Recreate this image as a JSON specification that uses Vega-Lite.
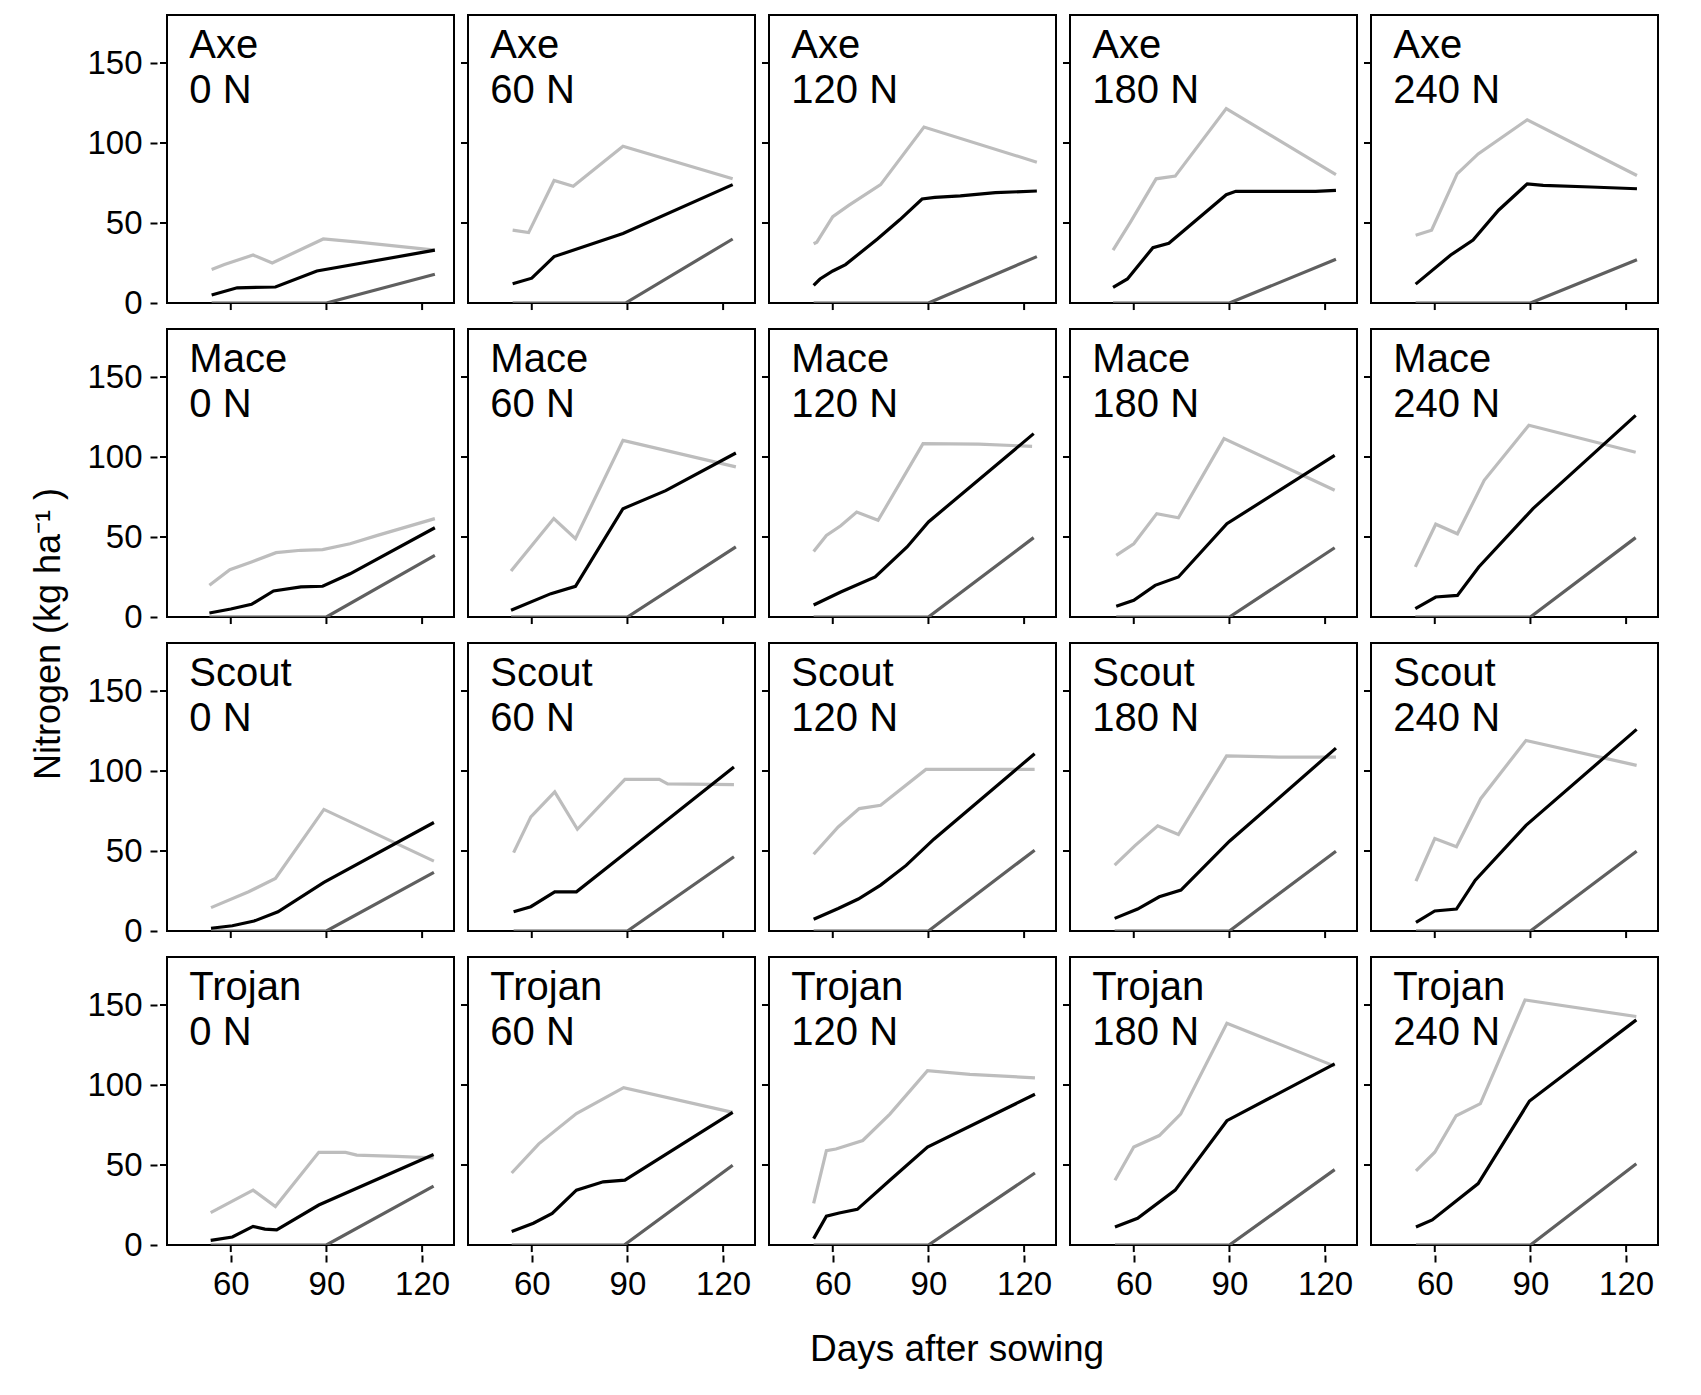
{
  "$schema": "https://vega.github.io/schema/vega-lite/v6.json",
  "background": "white",
  "padding": {"left": 30, "top": 14, "right": 10, "bottom": 10},
  "title": {
    "text": "Days after sowing", "orient": "bottom", "anchor": "middle", "dx": 112, "offset": 31,
    "fontSize": 37, "fontWeight": "normal", "color": "#000", "font": "Liberation Sans"
  },
  "datasets": {
    "nitrogen": [
      {"c":"Axe","n":0,"s":"L","d":54,"v":21},{"c":"Axe","n":0,"s":"L","d":58,"v":24},{"c":"Axe","n":0,"s":"L","d":67,"v":30},{"c":"Axe","n":0,"s":"L","d":73,"v":25},{"c":"Axe","n":0,"s":"L","d":89,"v":40},{"c":"Axe","n":0,"s":"L","d":100,"v":38},{"c":"Axe","n":0,"s":"L","d":124,"v":33},
      {"c":"Axe","n":0,"s":"D","d":54,"v":0},{"c":"Axe","n":0,"s":"D","d":90,"v":0},{"c":"Axe","n":0,"s":"D","d":124,"v":18},
      {"c":"Axe","n":0,"s":"B","d":54,"v":5},{"c":"Axe","n":0,"s":"B","d":62,"v":9.5},{"c":"Axe","n":0,"s":"B","d":74,"v":10},{"c":"Axe","n":0,"s":"B","d":87,"v":20},{"c":"Axe","n":0,"s":"B","d":124,"v":33},

      {"c":"Axe","n":60,"s":"L","d":54,"v":45.5},{"c":"Axe","n":60,"s":"L","d":59,"v":44},{"c":"Axe","n":60,"s":"L","d":67,"v":76.6},{"c":"Axe","n":60,"s":"L","d":73,"v":73},{"c":"Axe","n":60,"s":"L","d":88.6,"v":98},{"c":"Axe","n":60,"s":"L","d":123,"v":77.6},
      {"c":"Axe","n":60,"s":"D","d":54,"v":0},{"c":"Axe","n":60,"s":"D","d":89.4,"v":0},{"c":"Axe","n":60,"s":"D","d":123,"v":40},
      {"c":"Axe","n":60,"s":"B","d":54,"v":12},{"c":"Axe","n":60,"s":"B","d":60,"v":15.5},{"c":"Axe","n":60,"s":"B","d":67,"v":29},{"c":"Axe","n":60,"s":"B","d":88.6,"v":43.5},{"c":"Axe","n":60,"s":"B","d":123,"v":74},

      {"c":"Axe","n":120,"s":"L","d":54,"v":37},{"c":"Axe","n":120,"s":"L","d":55,"v":38},{"c":"Axe","n":120,"s":"L","d":60,"v":54},{"c":"Axe","n":120,"s":"L","d":65,"v":61},{"c":"Axe","n":120,"s":"L","d":75,"v":74},{"c":"Axe","n":120,"s":"L","d":88.6,"v":110},{"c":"Axe","n":120,"s":"L","d":124,"v":88},
      {"c":"Axe","n":120,"s":"D","d":54,"v":0},{"c":"Axe","n":120,"s":"D","d":90,"v":0},{"c":"Axe","n":120,"s":"D","d":124,"v":29},
      {"c":"Axe","n":120,"s":"B","d":54,"v":11},{"c":"Axe","n":120,"s":"B","d":56,"v":15},{"c":"Axe","n":120,"s":"B","d":60,"v":20},{"c":"Axe","n":120,"s":"B","d":64,"v":24},{"c":"Axe","n":120,"s":"B","d":74,"v":40},{"c":"Axe","n":120,"s":"B","d":81,"v":52},{"c":"Axe","n":120,"s":"B","d":88,"v":65},{"c":"Axe","n":120,"s":"B","d":92,"v":66},{"c":"Axe","n":120,"s":"B","d":100,"v":67},{"c":"Axe","n":120,"s":"B","d":111,"v":69},{"c":"Axe","n":120,"s":"B","d":124,"v":70},

      {"c":"Axe","n":180,"s":"L","d":53.5,"v":33},{"c":"Axe","n":180,"s":"L","d":59,"v":50.7},{"c":"Axe","n":180,"s":"L","d":67,"v":77.6},{"c":"Axe","n":180,"s":"L","d":73,"v":79.3},{"c":"Axe","n":180,"s":"L","d":89,"v":121.5},{"c":"Axe","n":180,"s":"L","d":123.4,"v":80.3},
      {"c":"Axe","n":180,"s":"D","d":53.5,"v":0},{"c":"Axe","n":180,"s":"D","d":90,"v":0},{"c":"Axe","n":180,"s":"D","d":123.4,"v":27.3},
      {"c":"Axe","n":180,"s":"B","d":53.5,"v":9.7},{"c":"Axe","n":180,"s":"B","d":58,"v":15},{"c":"Axe","n":180,"s":"B","d":66,"v":34.6},{"c":"Axe","n":180,"s":"B","d":71,"v":37.3},{"c":"Axe","n":180,"s":"B","d":89,"v":67.7},{"c":"Axe","n":180,"s":"B","d":92,"v":69.8},{"c":"Axe","n":180,"s":"B","d":117,"v":69.8},{"c":"Axe","n":180,"s":"B","d":123.4,"v":70.4},

      {"c":"Axe","n":240,"s":"L","d":54,"v":42.4},{"c":"Axe","n":240,"s":"L","d":59,"v":45.5},{"c":"Axe","n":240,"s":"L","d":67,"v":80.7},{"c":"Axe","n":240,"s":"L","d":73.6,"v":93.2},{"c":"Axe","n":240,"s":"L","d":89,"v":114.5},{"c":"Axe","n":240,"s":"L","d":123.4,"v":79.7},
      {"c":"Axe","n":240,"s":"D","d":54,"v":0},{"c":"Axe","n":240,"s":"D","d":90,"v":0},{"c":"Axe","n":240,"s":"D","d":123.4,"v":27},
      {"c":"Axe","n":240,"s":"B","d":54,"v":11.8},{"c":"Axe","n":240,"s":"B","d":65,"v":30},{"c":"Axe","n":240,"s":"B","d":72,"v":39.3},{"c":"Axe","n":240,"s":"B","d":80,"v":58},{"c":"Axe","n":240,"s":"B","d":89,"v":74.5},{"c":"Axe","n":240,"s":"B","d":94,"v":73.5},{"c":"Axe","n":240,"s":"B","d":109,"v":72.5},{"c":"Axe","n":240,"s":"B","d":123.4,"v":71.4},

      {"c":"Mace","n":0,"s":"L","d":53.3,"v":19.8},{"c":"Mace","n":0,"s":"L","d":59.7,"v":29.6},{"c":"Mace","n":0,"s":"L","d":66.5,"v":34.4},{"c":"Mace","n":0,"s":"L","d":74.2,"v":40.2},{"c":"Mace","n":0,"s":"L","d":82,"v":41.7},{"c":"Mace","n":0,"s":"L","d":88.8,"v":42.1},{"c":"Mace","n":0,"s":"L","d":97.4,"v":45.8},{"c":"Mace","n":0,"s":"L","d":106,"v":51},{"c":"Mace","n":0,"s":"L","d":124,"v":61.5},
      {"c":"Mace","n":0,"s":"D","d":53.3,"v":0},{"c":"Mace","n":0,"s":"D","d":90,"v":0},{"c":"Mace","n":0,"s":"D","d":124,"v":38.5},
      {"c":"Mace","n":0,"s":"B","d":53.3,"v":2.5},{"c":"Mace","n":0,"s":"B","d":60,"v":5},{"c":"Mace","n":0,"s":"B","d":66.5,"v":7.9},{"c":"Mace","n":0,"s":"B","d":73.4,"v":16.3},{"c":"Mace","n":0,"s":"B","d":82,"v":18.8},{"c":"Mace","n":0,"s":"B","d":88.8,"v":19.2},{"c":"Mace","n":0,"s":"B","d":97.4,"v":27},{"c":"Mace","n":0,"s":"B","d":124,"v":55.8},

      {"c":"Mace","n":60,"s":"L","d":53.5,"v":28.8},{"c":"Mace","n":60,"s":"L","d":66.9,"v":61.5},{"c":"Mace","n":60,"s":"L","d":73.7,"v":49},{"c":"Mace","n":60,"s":"L","d":88.6,"v":110.4},{"c":"Mace","n":60,"s":"L","d":124,"v":93.8},
      {"c":"Mace","n":60,"s":"D","d":53.5,"v":0},{"c":"Mace","n":60,"s":"D","d":90,"v":0},{"c":"Mace","n":60,"s":"D","d":124,"v":43.8},
      {"c":"Mace","n":60,"s":"B","d":53.5,"v":4.2},{"c":"Mace","n":60,"s":"B","d":66,"v":14.6},{"c":"Mace","n":60,"s":"B","d":73.7,"v":19.2},{"c":"Mace","n":60,"s":"B","d":88.6,"v":67.7},{"c":"Mace","n":60,"s":"B","d":102,"v":79},{"c":"Mace","n":60,"s":"B","d":124,"v":102.5},

      {"c":"Mace","n":120,"s":"L","d":54,"v":41},{"c":"Mace","n":120,"s":"L","d":58,"v":51},{"c":"Mace","n":120,"s":"L","d":62.5,"v":57},{"c":"Mace","n":120,"s":"L","d":67.5,"v":65.6},{"c":"Mace","n":120,"s":"L","d":74.2,"v":60.4},{"c":"Mace","n":120,"s":"L","d":88.3,"v":108.3},{"c":"Mace","n":120,"s":"L","d":105.8,"v":108},{"c":"Mace","n":120,"s":"L","d":122.5,"v":106.7},
      {"c":"Mace","n":120,"s":"D","d":54,"v":0},{"c":"Mace","n":120,"s":"D","d":90,"v":0},{"c":"Mace","n":120,"s":"D","d":123,"v":49.6},
      {"c":"Mace","n":120,"s":"B","d":54,"v":7.5},{"c":"Mace","n":120,"s":"B","d":62.5,"v":15.6},{"c":"Mace","n":120,"s":"B","d":73.3,"v":25},{"c":"Mace","n":120,"s":"B","d":83.3,"v":43.8},{"c":"Mace","n":120,"s":"B","d":90,"v":59.4},{"c":"Mace","n":120,"s":"B","d":123,"v":114.6},

      {"c":"Mace","n":180,"s":"L","d":54.5,"v":38.5},{"c":"Mace","n":180,"s":"L","d":60,"v":45.8},{"c":"Mace","n":180,"s":"L","d":67.2,"v":64.6},{"c":"Mace","n":180,"s":"L","d":74,"v":62},{"c":"Mace","n":180,"s":"L","d":88.3,"v":111.5},{"c":"Mace","n":180,"s":"L","d":123,"v":79.2},
      {"c":"Mace","n":180,"s":"D","d":54.5,"v":0},{"c":"Mace","n":180,"s":"D","d":90,"v":0},{"c":"Mace","n":180,"s":"D","d":123,"v":43.3},
      {"c":"Mace","n":180,"s":"B","d":54.5,"v":6.7},{"c":"Mace","n":180,"s":"B","d":60,"v":10.4},{"c":"Mace","n":180,"s":"B","d":66.7,"v":19.8},{"c":"Mace","n":180,"s":"B","d":74,"v":25},{"c":"Mace","n":180,"s":"B","d":89.2,"v":58.3},{"c":"Mace","n":180,"s":"B","d":123,"v":101},

      {"c":"Mace","n":240,"s":"L","d":53.9,"v":31.3},{"c":"Mace","n":240,"s":"L","d":60.3,"v":58},{"c":"Mace","n":240,"s":"L","d":67.1,"v":52},{"c":"Mace","n":240,"s":"L","d":75.5,"v":85.4},{"c":"Mace","n":240,"s":"L","d":89.5,"v":119.8},{"c":"Mace","n":240,"s":"L","d":123,"v":103},
      {"c":"Mace","n":240,"s":"D","d":53.9,"v":0},{"c":"Mace","n":240,"s":"D","d":90,"v":0},{"c":"Mace","n":240,"s":"D","d":123,"v":49.6},
      {"c":"Mace","n":240,"s":"B","d":53.9,"v":5.2},{"c":"Mace","n":240,"s":"B","d":60.3,"v":12.5},{"c":"Mace","n":240,"s":"B","d":67.1,"v":13.5},{"c":"Mace","n":240,"s":"B","d":73.8,"v":31.3},{"c":"Mace","n":240,"s":"B","d":90.8,"v":67.7},{"c":"Mace","n":240,"s":"B","d":123,"v":126},

      {"c":"Scout","n":0,"s":"L","d":53.8,"v":14.6},{"c":"Scout","n":0,"s":"L","d":65.6,"v":24.5},{"c":"Scout","n":0,"s":"L","d":74,"v":32.8},{"c":"Scout","n":0,"s":"L","d":89.2,"v":76},{"c":"Scout","n":0,"s":"L","d":123.7,"v":43.7},
      {"c":"Scout","n":0,"s":"D","d":53.8,"v":0},{"c":"Scout","n":0,"s":"D","d":90,"v":0},{"c":"Scout","n":0,"s":"D","d":123.7,"v":36.6},
      {"c":"Scout","n":0,"s":"B","d":53.8,"v":1.7},{"c":"Scout","n":0,"s":"B","d":60.5,"v":3.3},{"c":"Scout","n":0,"s":"B","d":67.3,"v":6.2},{"c":"Scout","n":0,"s":"B","d":74.8,"v":12},{"c":"Scout","n":0,"s":"B","d":89.2,"v":30.4},{"c":"Scout","n":0,"s":"B","d":123.7,"v":67.8},

      {"c":"Scout","n":60,"s":"L","d":54.3,"v":49},{"c":"Scout","n":60,"s":"L","d":59.7,"v":71.3},{"c":"Scout","n":60,"s":"L","d":67.2,"v":86.9},{"c":"Scout","n":60,"s":"L","d":74.3,"v":63.6},{"c":"Scout","n":60,"s":"L","d":89.2,"v":94.8},{"c":"Scout","n":60,"s":"L","d":100,"v":94.8},{"c":"Scout","n":60,"s":"L","d":102.6,"v":92},{"c":"Scout","n":60,"s":"L","d":123.4,"v":91.5},
      {"c":"Scout","n":60,"s":"D","d":54.3,"v":0},{"c":"Scout","n":60,"s":"D","d":90,"v":0},{"c":"Scout","n":60,"s":"D","d":123.4,"v":46.4},
      {"c":"Scout","n":60,"s":"B","d":54.3,"v":12},{"c":"Scout","n":60,"s":"B","d":59.7,"v":15.2},{"c":"Scout","n":60,"s":"B","d":67.2,"v":24.5},{"c":"Scout","n":60,"s":"B","d":74,"v":24.5},{"c":"Scout","n":60,"s":"B","d":89.2,"v":48.4},{"c":"Scout","n":60,"s":"B","d":123.4,"v":102.5},

      {"c":"Scout","n":120,"s":"L","d":54,"v":48},{"c":"Scout","n":120,"s":"L","d":61.7,"v":65},{"c":"Scout","n":120,"s":"L","d":68.3,"v":76.5},{"c":"Scout","n":120,"s":"L","d":75,"v":78.6},{"c":"Scout","n":120,"s":"L","d":89.2,"v":101},{"c":"Scout","n":120,"s":"L","d":123.3,"v":101},
      {"c":"Scout","n":120,"s":"D","d":54,"v":0},{"c":"Scout","n":120,"s":"D","d":90,"v":0},{"c":"Scout","n":120,"s":"D","d":123.3,"v":50.5},
      {"c":"Scout","n":120,"s":"B","d":54,"v":7.4},{"c":"Scout","n":120,"s":"B","d":61.7,"v":14.1},{"c":"Scout","n":120,"s":"B","d":68,"v":20},{"c":"Scout","n":120,"s":"B","d":75,"v":28.7},{"c":"Scout","n":120,"s":"B","d":83,"v":41},{"c":"Scout","n":120,"s":"B","d":91.7,"v":57.4},{"c":"Scout","n":120,"s":"B","d":123.3,"v":110.8},

      {"c":"Scout","n":180,"s":"L","d":54,"v":41.2},{"c":"Scout","n":180,"s":"L","d":60.3,"v":53.2},{"c":"Scout","n":180,"s":"L","d":67.5,"v":65.7},{"c":"Scout","n":180,"s":"L","d":74,"v":60.3},{"c":"Scout","n":180,"s":"L","d":89.1,"v":109.4},{"c":"Scout","n":180,"s":"L","d":105.5,"v":108.7},{"c":"Scout","n":180,"s":"L","d":123.4,"v":108.7},
      {"c":"Scout","n":180,"s":"D","d":54,"v":0},{"c":"Scout","n":180,"s":"D","d":90,"v":0},{"c":"Scout","n":180,"s":"D","d":123.4,"v":49.9},
      {"c":"Scout","n":180,"s":"B","d":54,"v":7.9},{"c":"Scout","n":180,"s":"B","d":61.2,"v":13.7},{"c":"Scout","n":180,"s":"B","d":68,"v":21.4},{"c":"Scout","n":180,"s":"B","d":74.8,"v":25.6},{"c":"Scout","n":180,"s":"B","d":90,"v":56.1},{"c":"Scout","n":180,"s":"B","d":123.4,"v":114.3},

      {"c":"Scout","n":240,"s":"L","d":54.1,"v":31.2},{"c":"Scout","n":240,"s":"L","d":60,"v":57.8},{"c":"Scout","n":240,"s":"L","d":66.8,"v":52.6},{"c":"Scout","n":240,"s":"L","d":74.4,"v":82.7},{"c":"Scout","n":240,"s":"L","d":88.6,"v":119.1},{"c":"Scout","n":240,"s":"L","d":123.3,"v":103.5},
      {"c":"Scout","n":240,"s":"D","d":54.1,"v":0},{"c":"Scout","n":240,"s":"D","d":90,"v":0},{"c":"Scout","n":240,"s":"D","d":123.3,"v":49.9},
      {"c":"Scout","n":240,"s":"B","d":54.1,"v":5.4},{"c":"Scout","n":240,"s":"B","d":60,"v":12.5},{"c":"Scout","n":240,"s":"B","d":66.8,"v":13.7},{"c":"Scout","n":240,"s":"B","d":72.7,"v":31.8},{"c":"Scout","n":240,"s":"B","d":88.6,"v":66},{"c":"Scout","n":240,"s":"B","d":123.3,"v":126},

      {"c":"Trojan","n":0,"s":"L","d":53.7,"v":20.2},{"c":"Trojan","n":0,"s":"L","d":67,"v":34.3},{"c":"Trojan","n":0,"s":"L","d":74,"v":24},{"c":"Trojan","n":0,"s":"L","d":87.6,"v":57.9},{"c":"Trojan","n":0,"s":"L","d":96,"v":57.9},{"c":"Trojan","n":0,"s":"L","d":99.5,"v":56.2},{"c":"Trojan","n":0,"s":"L","d":112,"v":55.4},{"c":"Trojan","n":0,"s":"L","d":123.6,"v":54.5},
      {"c":"Trojan","n":0,"s":"D","d":53.7,"v":0},{"c":"Trojan","n":0,"s":"D","d":90,"v":0},{"c":"Trojan","n":0,"s":"D","d":123.6,"v":36.8},
      {"c":"Trojan","n":0,"s":"B","d":53.7,"v":2.9},{"c":"Trojan","n":0,"s":"B","d":60.5,"v":5},{"c":"Trojan","n":0,"s":"B","d":67,"v":11.6},{"c":"Trojan","n":0,"s":"B","d":70.7,"v":9.9},{"c":"Trojan","n":0,"s":"B","d":74.4,"v":9.5},{"c":"Trojan","n":0,"s":"B","d":87.6,"v":25},{"c":"Trojan","n":0,"s":"B","d":123.6,"v":56.6},

      {"c":"Trojan","n":60,"s":"L","d":53.7,"v":45},{"c":"Trojan","n":60,"s":"L","d":62.2,"v":63.2},{"c":"Trojan","n":60,"s":"L","d":74,"v":82.2},{"c":"Trojan","n":60,"s":"L","d":88.8,"v":98.3},{"c":"Trojan","n":60,"s":"L","d":123,"v":82.9},
      {"c":"Trojan","n":60,"s":"D","d":53.7,"v":0},{"c":"Trojan","n":60,"s":"D","d":89,"v":0},{"c":"Trojan","n":60,"s":"D","d":123,"v":49.8},
      {"c":"Trojan","n":60,"s":"B","d":53.7,"v":8.5},{"c":"Trojan","n":60,"s":"B","d":60.5,"v":13.6},{"c":"Trojan","n":60,"s":"B","d":66.4,"v":19.8},{"c":"Trojan","n":60,"s":"B","d":74,"v":34.3},{"c":"Trojan","n":60,"s":"B","d":82.4,"v":39.5},{"c":"Trojan","n":60,"s":"B","d":89.2,"v":40.5},{"c":"Trojan","n":60,"s":"B","d":123,"v":82.9},

      {"c":"Trojan","n":120,"s":"L","d":54,"v":26},{"c":"Trojan","n":120,"s":"L","d":58,"v":59},{"c":"Trojan","n":120,"s":"L","d":61,"v":60},{"c":"Trojan","n":120,"s":"L","d":69.4,"v":65.3},{"c":"Trojan","n":120,"s":"L","d":77.9,"v":81.8},{"c":"Trojan","n":120,"s":"L","d":89.7,"v":109},{"c":"Trojan","n":120,"s":"L","d":103,"v":106.6},{"c":"Trojan","n":120,"s":"L","d":123.4,"v":104.5},
      {"c":"Trojan","n":120,"s":"D","d":54,"v":0},{"c":"Trojan","n":120,"s":"D","d":90,"v":0},{"c":"Trojan","n":120,"s":"D","d":123.4,"v":45},
      {"c":"Trojan","n":120,"s":"B","d":54,"v":4},{"c":"Trojan","n":120,"s":"B","d":58,"v":18},{"c":"Trojan","n":120,"s":"B","d":62,"v":20},{"c":"Trojan","n":120,"s":"B","d":67.7,"v":22.3},{"c":"Trojan","n":120,"s":"B","d":77.9,"v":40.5},{"c":"Trojan","n":120,"s":"B","d":89.7,"v":61.2},{"c":"Trojan","n":120,"s":"B","d":123.4,"v":94.2},

      {"c":"Trojan","n":180,"s":"L","d":54.1,"v":40.5},{"c":"Trojan","n":180,"s":"L","d":60,"v":61.2},{"c":"Trojan","n":180,"s":"L","d":68,"v":68.4},{"c":"Trojan","n":180,"s":"L","d":74.7,"v":81.8},{"c":"Trojan","n":180,"s":"L","d":89.2,"v":138.6},{"c":"Trojan","n":180,"s":"L","d":123,"v":111.8},
      {"c":"Trojan","n":180,"s":"D","d":54.1,"v":0},{"c":"Trojan","n":180,"s":"D","d":90,"v":0},{"c":"Trojan","n":180,"s":"D","d":123,"v":47.1},
      {"c":"Trojan","n":180,"s":"B","d":54.1,"v":11.2},{"c":"Trojan","n":180,"s":"B","d":61.2,"v":16.7},{"c":"Trojan","n":180,"s":"B","d":73,"v":34.3},{"c":"Trojan","n":180,"s":"B","d":89.2,"v":77.7},{"c":"Trojan","n":180,"s":"B","d":123,"v":113.2},

      {"c":"Trojan","n":240,"s":"L","d":54.1,"v":46.3},{"c":"Trojan","n":240,"s":"L","d":60,"v":58},{"c":"Trojan","n":240,"s":"L","d":66.7,"v":80.8},{"c":"Trojan","n":240,"s":"L","d":74.3,"v":88.4},{"c":"Trojan","n":240,"s":"L","d":88.3,"v":153.1},{"c":"Trojan","n":240,"s":"L","d":123.2,"v":142.8},
      {"c":"Trojan","n":240,"s":"D","d":54.1,"v":0},{"c":"Trojan","n":240,"s":"D","d":90,"v":0},{"c":"Trojan","n":240,"s":"D","d":123.2,"v":50.8},
      {"c":"Trojan","n":240,"s":"B","d":54.1,"v":11.2},{"c":"Trojan","n":240,"s":"B","d":59.2,"v":15.7},{"c":"Trojan","n":240,"s":"B","d":73.6,"v":38.4},{"c":"Trojan","n":240,"s":"B","d":89.7,"v":90},{"c":"Trojan","n":240,"s":"B","d":123.2,"v":140.7}
    ]
  },
  "data": {"name": "nitrogen"},
  "facet": {
    "row": {
      "field": "c", "type": "nominal",
      "header": {"labels": false, "title": "Nitrogen (kg ha⁻¹ )", "titleOrient": "left", "titleFontSize": 36, "titleFontWeight": "normal", "titleColor": "#000", "titlePadding": 8}
    },
    "column": {
      "field": "n", "type": "ordinal",
      "header": {"labels": false, "title": null}
    }
  },
  "spacing": {"row": 15, "column": 3},
  "spec": {
    "width": 287,
    "height": 288,
    "layer": [
      {
        "mark": {"type": "line", "strokeWidth": 3.2, "clip": true},
        "encoding": {
          "x": {
            "field": "d", "type": "quantitative",
            "scale": {"domain": [40, 130], "nice": false, "zero": false},
            "axis": {"values": [60, 90, 120], "labelPadding": 6, "title": null}
          },
          "y": {
            "field": "v", "type": "quantitative",
            "scale": {"domain": [0, 180], "nice": false},
            "axis": {"values": [0, 50, 100, 150], "labelPadding": 8, "title": null}
          },
          "color": {
            "field": "s", "type": "nominal",
            "scale": {"domain": ["L", "D", "B"], "range": ["#bdbdbd", "#5f5f5f", "#000000"]},
            "legend": null
          }
        }
      },
      {
        "transform": [
          {"filter": "datum.s == 'D' && datum.d < 60"},
          {"calculate": "[datum.c, datum.n + ' N']", "as": "label"}
        ],
        "layer": [
          {
            "mark": {"type": "text", "align": "left", "baseline": "alphabetic", "fontSize": 40, "lineHeight": 45, "color": "#000"},
            "encoding": {
              "x": {"datum": 47, "type": "quantitative"},
              "y": {"datum": 153, "type": "quantitative"},
              "text": {"field": "label"}
            }
          },
          {
            "mark": {"type": "rule", "color": "#000", "strokeWidth": 2, "clip": false},
            "encoding": {"x": {"datum": 60, "type": "quantitative"}, "y": {"datum": 0, "type": "quantitative"}, "y2": {"datum": -4.4}}
          },
          {
            "mark": {"type": "rule", "color": "#000", "strokeWidth": 2, "clip": false},
            "encoding": {"x": {"datum": 90, "type": "quantitative"}, "y": {"datum": 0, "type": "quantitative"}, "y2": {"datum": -4.4}}
          },
          {
            "mark": {"type": "rule", "color": "#000", "strokeWidth": 2, "clip": false},
            "encoding": {"x": {"datum": 120, "type": "quantitative"}, "y": {"datum": 0, "type": "quantitative"}, "y2": {"datum": -4.4}}
          },
          {
            "mark": {"type": "rule", "color": "#000", "strokeWidth": 2, "clip": false},
            "encoding": {"y": {"datum": 50, "type": "quantitative"}, "x": {"datum": 40, "type": "quantitative"}, "x2": {"datum": 37.8}}
          },
          {
            "mark": {"type": "rule", "color": "#000", "strokeWidth": 2, "clip": false},
            "encoding": {"y": {"datum": 100, "type": "quantitative"}, "x": {"datum": 40, "type": "quantitative"}, "x2": {"datum": 37.8}}
          },
          {
            "mark": {"type": "rule", "color": "#000", "strokeWidth": 2, "clip": false},
            "encoding": {"y": {"datum": 150, "type": "quantitative"}, "x": {"datum": 40, "type": "quantitative"}, "x2": {"datum": 37.8}}
          }
        ]
      }
    ]
  },
  "config": {
    "font": "Liberation Sans",
    "view": {"stroke": "#000", "strokeWidth": 2},
    "axis": {
      "domain": false, "grid": false, "ticks": true,
      "tickColor": "#000", "tickWidth": 2, "tickSize": 7,
      "labelColor": "#000", "labelFontSize": 33, "labelFlush": false, "labelOverlap": false
    }
  }
}
